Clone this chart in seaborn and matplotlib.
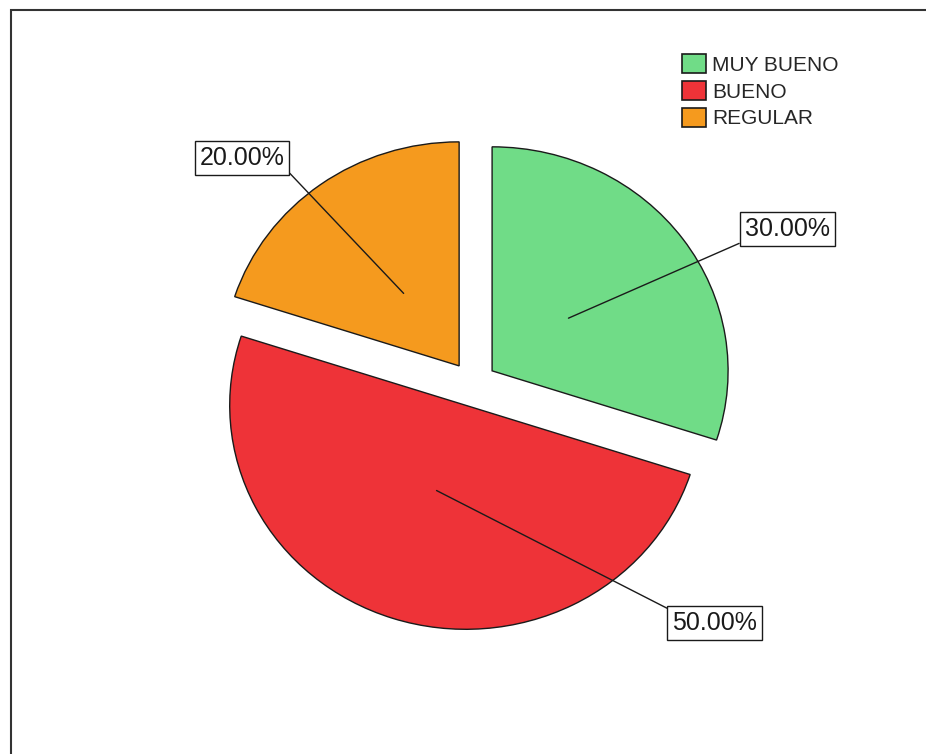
import numpy as np
import matplotlib
matplotlib.use("Agg")
import matplotlib.pyplot as plt
from matplotlib.patches import Rectangle
import seaborn as sns

# Survey result shares
categories = ["MUY BUENO", "BUENO", "REGULAR"]
shares = [30.0, 50.0, 20.0]
colors = ["#70DC87", "#EE3338", "#F59A1E"]

# Where each percentage box sits, in pie-radius units from the pie centre
label_xy = [(1.331, 0.692), (1.025, -1.067), (-0.979, 1.009)]
# Which corner of each box the leader line attaches to
label_corner = [(0, 0), (0, 1), (1, 0.1)]

sns.set_theme(style="white")
plt.rcParams["font.family"] = ["Liberation Sans", "DejaVu Sans"]

W, H, DPI = 926, 754, 100
fig = plt.figure(figsize=(W / DPI, H / DPI), dpi=DPI)
fig.patch.set_facecolor("white")
ax = fig.add_axes([0, 0, 1, 1])

explode = [0.1] * len(shares)
wedges, _ = ax.pie(
    shares,
    colors=colors,
    startangle=90,
    counterclock=False,
    explode=explode,
    radius=1.0,
    wedgeprops=dict(edgecolor="#1a1a1a", linewidth=1.0),
)

# Pixel mapping: pie centre at (473, 384) px, radius 236 px wide / 224 px tall
cx, cy, rx, ry = 473.0, 384.0, 236.0, 224.0
ax.set_aspect("auto")
ax.set_xlim(-cx / rx, (W - cx) / rx)
ax.set_ylim(-(H - cy) / ry, cy / ry)
ax.axis("off")

total = sum(shares)
for w, v, ex, (tx, ty), rp in zip(wedges, shares, explode, label_xy, label_corner):
    mid = np.deg2rad((w.theta1 + w.theta2) / 2.0)
    d = np.array([np.cos(mid), np.sin(mid)])
    inner = d * ex + d * 0.4
    ax.annotate(
        f"{v / total * 100:.2f}%",
        xy=inner, xytext=(tx, ty),
        ha="center", va="center", fontsize=18, color="#1a1a1a",
        bbox=dict(boxstyle="square,pad=0.2", facecolor="white",
                  edgecolor="#1a1a1a", linewidth=1.0),
        arrowprops=dict(arrowstyle="-", color="#1a1a1a", linewidth=1.0,
                        shrinkA=0, shrinkB=0, relpos=rp),
        zorder=5,
    )

fs = 15
px = fs * DPI / 72.0
leg = ax.legend(
    wedges, categories,
    loc="upper left",
    bbox_to_anchor=(682 / W, 1 - 54 / H),
    bbox_transform=fig.transFigure,
    frameon=False,
    fontsize=fs,
    handlelength=24 / px,
    handleheight=22 / px,
    handletextpad=6 / px,
    labelspacing=6 / px,
    borderpad=0,
    borderaxespad=0,
)
for h in leg.legend_handles:
    h.set_edgecolor("#1a1a1a")
    h.set_linewidth(1.2)

# Chart border (top and left edges visible)
fig.add_artist(Rectangle((11 / W, -0.2), 2.0, 0.2 + (H - 10) / H,
                         transform=fig.transFigure, fill=False,
                         edgecolor="#333333", linewidth=1.5))

fig.savefig("out.png", dpi=DPI)
